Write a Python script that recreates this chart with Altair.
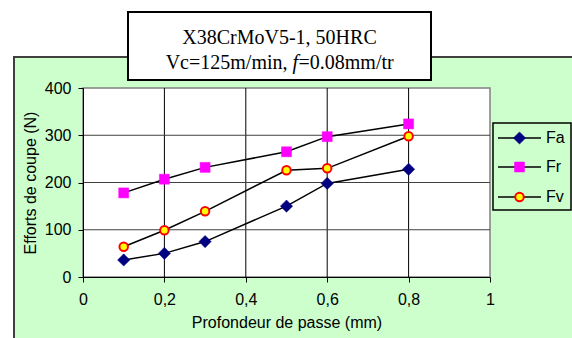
import altair as alt
import pandas as pd

# ---- data ----
depth = [0.1, 0.2, 0.3, 0.5, 0.6, 0.8]
fa = [36, 50, 75, 150, 198, 228]
fr = [178, 207, 232, 265, 297, 324]
fv = [64, 99, 139, 226, 230, 298]
series_names = ["Fa", "Fr", "Fv"]
x_ticks = [0, 0.2, 0.4, 0.6, 0.8, 1]
y_ticks = [0, 100, 200, 300, 400]
x_grid = [0.2, 0.4, 0.6, 0.8]
y_grid = [100, 200, 300]
title_line1 = "X38CrMoV5-1, 50HRC"
title_line2_a = "Vc=125m/min,"
title_line2_f = "f"
title_line2_b = "=0.08mm/tr"
x_title = "Profondeur de passe (mm)"
y_title = "Efforts de coupe (N)"

rows = []
for name, vals in zip(series_names, [fa, fr, fv]):
    for d, v in zip(depth, vals):
        rows.append({"depth": d, "force": v, "series": name})
df = pd.DataFrame(rows)
one = pd.DataFrame({"k": [0]})

W, H = 407, 189
SANS = "Liberation Sans"
SERIF = "Liberation Serif"
xs = alt.Scale(domain=[0, 1], nice=False, zero=True)
ys = alt.Scale(domain=[0, 400], nice=False)

axis_x = alt.Axis(values=x_ticks, labelExpr="replace(format(datum.value, '~g'), '.', ',')",
                  grid=False, domainColor="black", domainWidth=1, tickColor="black", tickSize=5,
                  labelFont=SANS, labelFontSize=16, labelColor="black", labelPadding=9,
                  labelFlush=False, labelOverlap=False,
                  titleFont=SANS, titleFontSize=16, titleFontWeight="normal", titleColor="black",
                  titlePadding=7, zindex=1)
axis_y = alt.Axis(values=y_ticks, format="d", grid=False, domainColor="black", domainWidth=1,
                  tickColor="black", tickSize=5,
                  labelFont=SANS, labelFontSize=16, labelColor="black", labelPadding=7,
                  labelFlush=False, labelOverlap=False,
                  titleFont=SANS, titleFontSize=16, titleFontWeight="normal", titleColor="black",
                  titlePadding=6, zindex=1)

X = alt.X("depth:Q", scale=xs, axis=axis_x, title=x_title)
Y = alt.Y("force:Q", scale=ys, axis=axis_y, title=y_title)


def V(v):
    return alt.value(v)


green = alt.Chart(one).mark_rect(fill="#CCFFCC", stroke="#404040", strokeWidth=2).encode(
    x=V(-69), x2=V(540), y=V(-31), y2=V(300))
plot_bg = alt.Chart(one).mark_rect(fill="white", stroke="#808080", strokeWidth=1.5).encode(
    x=V(0), x2=V(W), y=V(0), y2=V(H))

vgrid = alt.Chart(pd.DataFrame({"depth": x_grid})).mark_rule(color="black", strokeWidth=1).encode(x=X)
hgrid = alt.Chart(pd.DataFrame({"force": y_grid})).mark_rule(color="#404040", strokeWidth=1).encode(y=Y)

lines = alt.Chart(df).mark_line(color="black", strokeWidth=1.5).encode(x=X, y=Y, detail="series:N")

styles = {
    "Fa": dict(shape="diamond", size=150, fill="#000080", stroke="#000080", strokeWidth=0.5),
    "Fr": dict(shape="square", size=100, fill="#FF00FF", stroke="#FF00FF", strokeWidth=0.5),
    "Fv": dict(shape="circle", size=72, fill="#FFFF00", stroke="#FF0000", strokeWidth=2),
}

point_layers = []
for name in series_names:
    st = styles[name]
    point_layers.append(
        alt.Chart(df).transform_filter(alt.datum.series == name).mark_point(
            filled=True, opacity=1, fillOpacity=1, **st).encode(x=X, y=Y))

# ---- title box ----
title_box = alt.Chart(one).mark_rect(fill="white", stroke="black", strokeWidth=2).encode(
    x=V(45), x2=V(348), y=V(-76), y2=V(-8))
t1 = alt.Chart(one).mark_text(text=title_line1, font=SERIF, fontSize=20, align="center",
                              baseline="alphabetic", color="black").encode(x=V(196.5), y=V(-44))
t2a = alt.Chart(one).mark_text(text=title_line2_a, font=SERIF, fontSize=20, align="right",
                               baseline="alphabetic", color="black").encode(x=V(204.5), y=V(-19))
t2f = alt.Chart(one).mark_text(text=title_line2_f, font=SERIF, fontSize=20, fontStyle="italic",
                               align="left", baseline="alphabetic", color="black").encode(x=V(209.5), y=V(-19))
t2b = alt.Chart(one).mark_text(text=title_line2_b, font=SERIF, fontSize=20, align="left",
                               baseline="alphabetic", color="black").encode(x=V(215.5), y=V(-19))

# ---- legend ----
legend_layers = [alt.Chart(one).mark_rect(fill="#CCFFCC", stroke="black", strokeWidth=1.5).encode(
    x=V(410), x2=V(488), y=V(35), y2=V(122))]
leg_y = {"Fa": 50, "Fr": 79, "Fv": 109}
for name in series_names:
    yy = leg_y[name]
    st = styles[name]
    legend_layers.append(alt.Chart(one).mark_rule(color="black", strokeWidth=1.5).encode(
        x=V(415), x2=V(458), y=V(yy)))
    legend_layers.append(alt.Chart(one).mark_point(filled=True, opacity=1, fillOpacity=1, **st).encode(
        x=V(436.5), y=V(yy)))
    legend_layers.append(alt.Chart(one).mark_text(text=name, font=SANS, fontSize=16, align="left",
                                                  baseline="middle", color="black").encode(
        x=V(463), y=V(yy)))

chart = alt.layer(green, plot_bg, vgrid, hgrid, lines, *point_layers,
                  title_box, t1, t2a, t2f, t2b, *legend_layers).properties(
    width=W, height=H,
    autosize=alt.AutoSizeParams(type="none"),
    padding={"left": 83, "top": 88, "right": 82, "bottom": 61},
    background="white",
).configure_view(stroke=None)

chart.save("out.html", embed_options={"renderer": "svg", "actions": False})
